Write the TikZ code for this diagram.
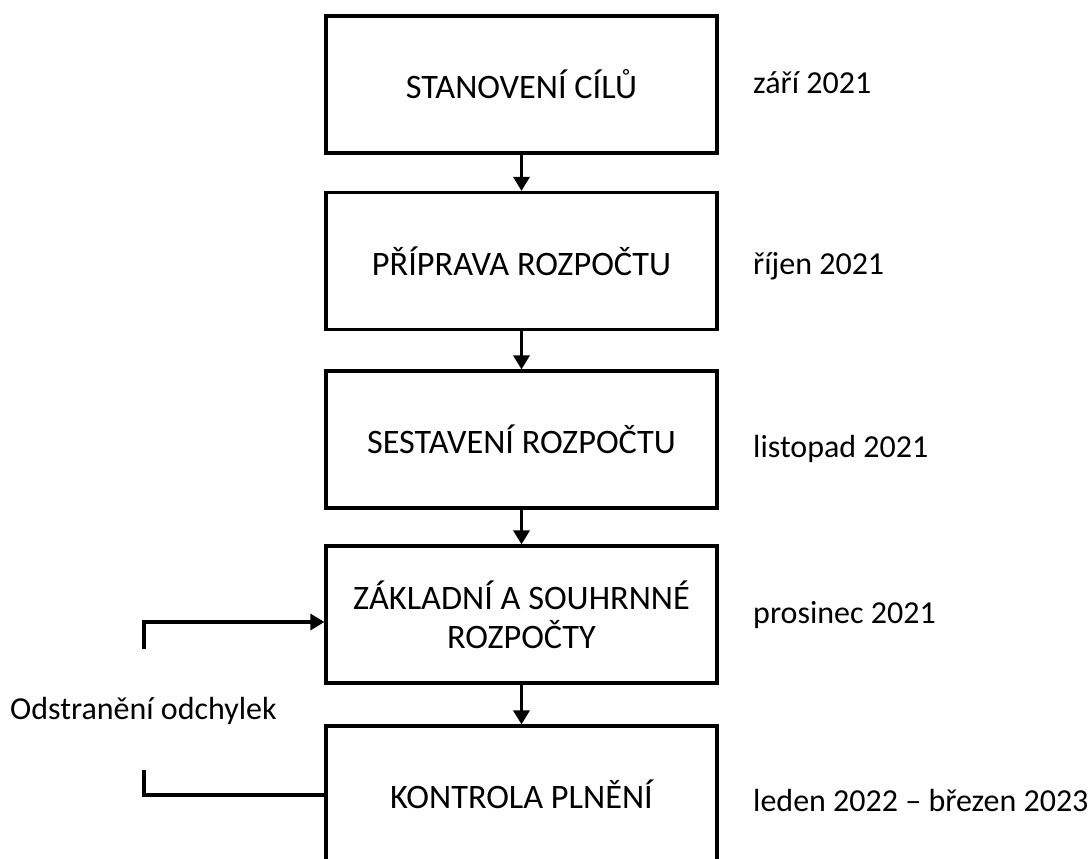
\documentclass[tikz,border=0pt]{standalone}
\usepackage{fontspec}
\setmainfont{Carlito}
\usetikzlibrary{arrows.meta}
\newcommand{\fsz}[1]{\fontsize{#1}{39}\selectfont}
\begin{document}
\begin{tikzpicture}[x=1pt,y=-1pt,
  font=\fsz{32},
  stagebox/.style={draw=black, line width=3.2pt, minimum width=391pt,
    minimum height=137pt, inner sep=0pt, align=center, font=\fsz{34.3}},
  flow/.style={line width=3.2pt, -{Triangle[width=16pt,length=14pt]}},
  link/.style={line width=3.2pt},
  datelabel/.style={anchor=base west, inner sep=0pt}]
  \useasboundingbox (0,0) rectangle (1090,859);

  % process stages
  \node[stagebox] (s1) at (521.5,84.5) {STANOVENÍ CÍLŮ};
  \node[stagebox] (s2) at (521.5,261) {PŘÍPRAVA ROZPOČTU};
  \node[stagebox] (s3) at (521.5,439.5) {SESTAVENÍ ROZPOČTU};
  \node[stagebox] (s4) at (521.5,614.5) {ZÁKLADNÍ A SOUHRNNÉ\\ROZPOČTY};
  \node[stagebox] (s5) at (521.5,794.5) {KONTROLA PLNĚNÍ};

  % arrows between stages
  \draw[flow] (s1.south) -- (s2.north);
  \draw[flow] (s2.south) -- (s3.north);
  \draw[flow] (s3.south) -- (s4.north);
  \draw[flow] (s4.south) -- (s5.north);

  % schedule
  \node[datelabel] (d1) at (753,94) {září 2021};
  \node[datelabel] (d2) at (753,274) {říjen 2021};
  \node[datelabel] (d3) at (753,457) {listopad 2021};
  \node[datelabel] (d4) at (753,623) {prosinec 2021};
  \node[datelabel] (d5) at (753,811) {leden 2022 – březen 2023};

  % feedback loop
  \node[datelabel] (fb) at (10,719) {Odstranění odchylek};
  \coordinate (fbTopEnd) at (144,649);
  \coordinate (fbTopIn) at (s4.west |- 0,622);
  \coordinate (fbLowEnd) at (144,770);
  \coordinate (fbLowOut) at (s5.west |- 0,795);
  \draw[flow] (fbTopEnd) |- (fbTopIn);
  \draw[link] (fbLowEnd) |- (fbLowOut);
\end{tikzpicture}
\end{document}
